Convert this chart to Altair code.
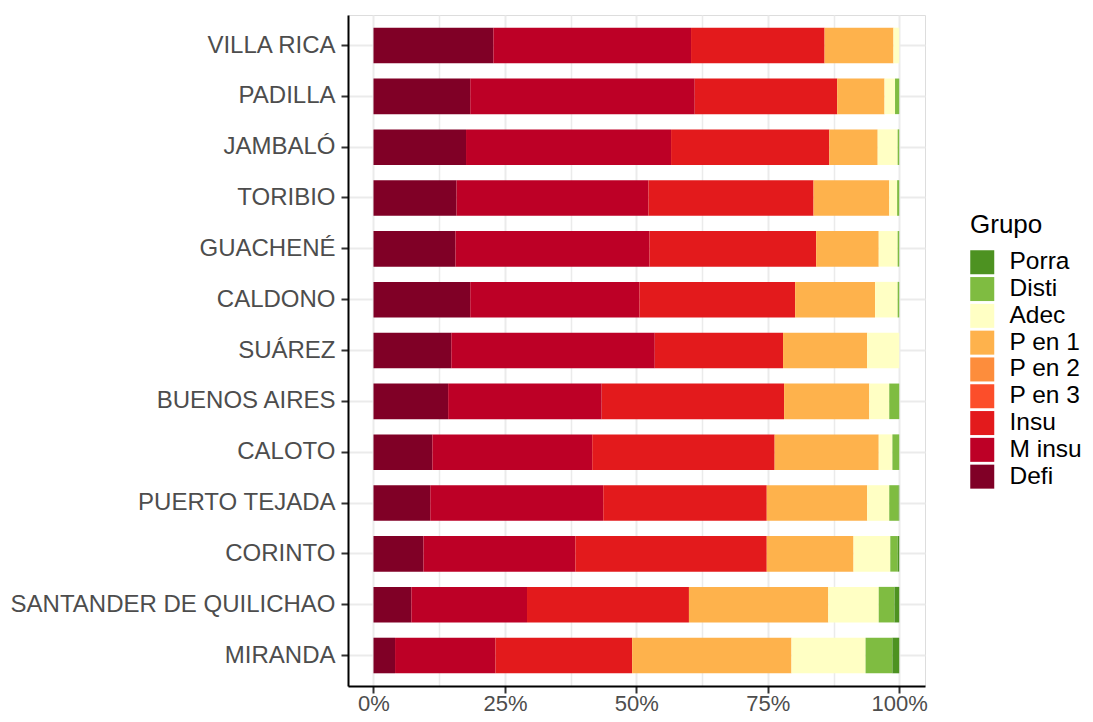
import altair as alt
import pandas as pd

municipios = ["VILLA RICA", "PADILLA", "JAMBALÓ", "TORIBIO", "GUACHENÉ", "CALDONO",
              "SUÁREZ", "BUENOS AIRES", "CALOTO", "PUERTO TEJADA", "CORINTO",
              "SANTANDER DE QUILICHAO", "MIRANDA"]

defi   = [22.8, 18.4, 17.6, 15.8, 15.6, 18.4, 14.8, 14.2, 11.2, 10.8, 9.5, 7.2, 4.1]
m_insu = [37.6, 42.7, 39.0, 36.5, 36.9, 32.2, 38.7, 29.2, 30.4, 32.9, 28.9, 22.0, 19.1]
insu   = [25.4, 27.1, 30.1, 31.4, 31.7, 29.6, 24.4, 34.7, 34.7, 31.1, 36.4, 30.8, 26.0]
p_en_3 = [0, 0, 0, 0, 0, 0, 0, 0, 0, 0, 0, 0, 0]
p_en_2 = [0, 0, 0, 0, 0, 0, 0, 0, 0, 0, 0, 0, 0]
p_en_1 = [13.1, 9.0, 9.2, 14.4, 11.9, 15.2, 16.0, 16.2, 19.8, 19.1, 16.5, 26.5, 30.3]
adec   = [1.1, 2.0, 3.8, 1.5, 3.6, 4.3, 6.1, 3.8, 2.6, 4.2, 7.0, 9.6, 14.1]
disti  = [0.0, 0.8, 0.3, 0.4, 0.3, 0.3, 0.0, 1.9, 1.3, 1.8, 1.4, 3.0, 5.1]
porra  = [0.0, 0.0, 0.0, 0.0, 0.0, 0.0, 0.0, 0.0, 0.0, 0.1, 0.3, 0.9, 1.3]

# stacking order from left (0) to right
grupos_stack = ["Defi", "M insu", "Insu", "P en 3", "P en 2", "P en 1", "Adec", "Disti", "Porra"]
series = [defi, m_insu, insu, p_en_3, p_en_2, p_en_1, adec, disti, porra]

legend_order = ["Porra", "Disti", "Adec", "P en 1", "P en 2", "P en 3", "Insu", "M insu", "Defi"]
legend_colors = ["#4D9221", "#7FBC41", "#FFFFC4", "#FEB24C", "#FD8D3C", "#FC4E2A",
                 "#E31A1C", "#BD0026", "#800026"]

rows = []
for gi, (g, vals) in enumerate(zip(grupos_stack, series)):
    for m, v in zip(municipios, vals):
        rows.append({"Municipio": m, "Grupo": g, "Pct": v, "orden": gi})
df = pd.DataFrame(rows)

grid_vals = [0, 12.5, 25, 37.5, 50, 62.5, 75, 87.5, 100]

chart = alt.Chart(df).mark_bar(strokeWidth=0).encode(
    x=alt.X("sum(Pct):Q", stack=True,
            scale=alt.Scale(domain=[-4.85, 104.9], nice=False, zero=False),
            axis=alt.Axis(title=None, values=grid_vals,
                          labelExpr="datum.value % 25 === 0 ? datum.value + '%' : ''",
                          tickOpacity={"condition": {"test": "datum.value % 25 === 0", "value": 1}, "value": 0},
                          gridWidth={"condition": {"test": "datum.value % 25 === 0", "value": 2}, "value": 1.5},
                          grid=True, gridColor="#EBEBEB",
                          labelFontSize=22, labelColor="#4D4D4D", labelPadding=0,
                          tickSize=7, tickWidth=2, tickColor="#333333",
                          domainColor="#000000", domainWidth=2, labelFlush=False)),
    y=alt.Y("Municipio:N", sort=municipios,
            scale=alt.Scale(paddingInner=0.3, paddingOuter=0.25),
            axis=alt.Axis(title=None, grid=True, gridColor="#EBEBEB", gridWidth=2,
                          bandPosition=0.5, labelLimit=0,
                          labelFontSize=24, labelColor="#4D4D4D", labelPadding=6,
                          tickSize=7, tickWidth=2, tickColor="#333333",
                          domainColor="#000000", domainWidth=2)),
    color=alt.Color("Grupo:N",
                    scale=alt.Scale(domain=legend_order, range=legend_colors),
                    legend=alt.Legend(title="Grupo", orient="none", legendX=622, legendY=197,
                                      titleFontSize=26, titleFontWeight="normal", titleColor="#000000",
                                      titlePadding=12, labelFontSize=24.5, labelColor="#000000",
                                      symbolType="square", symbolSize=576, symbolStrokeWidth=0,
                                      symbolOpacity=1, labelOffset=15, rowPadding=0.8, padding=0)),
    order=alt.Order("orden:Q", sort="ascending"),
).properties(
    width=577, height=671,
    autosize=alt.AutoSizeParams(type="none"),
    padding={"left": 340, "top": 7, "right": 159, "bottom": 28},
).configure_view(stroke=None).configure(
    font="Liberation Sans"
)

chart.save("out.html", embed_options={"renderer": "svg", "actions": False})
